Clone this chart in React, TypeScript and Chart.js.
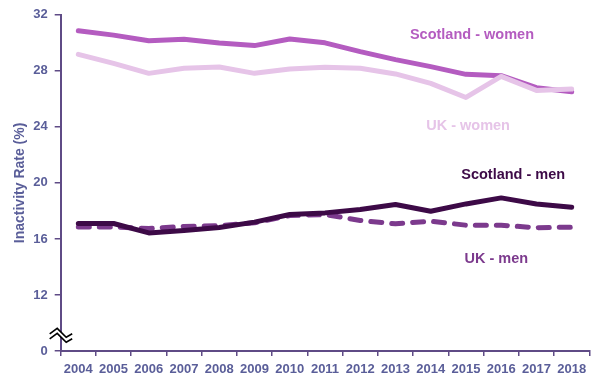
import React, { useEffect, useRef } from "react";
import { Chart, registerables } from "chart.js";

Chart.register(...registerables);

const years = ["2004","2005","2006","2007","2008","2009","2010","2011","2012","2013","2014","2015","2016","2017","2018"];
const scotlandWomen = [30.86, 30.55, 30.15, 30.25, 29.98, 29.8, 30.27, 30.0, 29.37, 28.8, 28.3, 27.75, 27.65, 26.8, 26.5];
const ukWomen = [29.18, 28.53, 27.82, 28.18, 28.27, 27.82, 28.13, 28.25, 28.18, 27.78, 27.1, 26.1, 27.6, 26.6, 26.7];
const scotlandMen = [17.1, 17.1, 16.43, 16.6, 16.82, 17.2, 17.74, 17.86, 18.1, 18.46, 17.98, 18.5, 18.93, 18.5, 18.26];
const ukMen = [16.86, 16.86, 16.74, 16.89, 16.95, 17.15, 17.67, 17.74, 17.32, 17.08, 17.27, 16.98, 16.98, 16.8, 16.84];
const yTicks = [8, 12, 16, 20, 24, 28, 32];
const axisBaseLabel = "0";

const seriesNames = ["Scotland - women", "UK - women", "Scotland - men", "UK - men"];
const colors = ["#b45cc0", "#e6c4e8", "#3d0a47", "#7c3a8d"];

// label anchors in data space: [category index, value]
const labelAnchors: [number, number][] = [
  [11.17, 30.58],
  [11.06, 24.03],
  [12.34, 20.54],
  [11.86, 14.56],
];

const AXIS = "#5f4b86";
const TICK = "#5a5e99";
const FONT = "'Liberation Sans', Arial, sans-serif";

const overlayPlugin = {
  id: "overlay",
  afterDatasetsDraw(chart: any) {
    const { ctx } = chart;
    const xs = chart.scales.x;
    const ys = chart.scales.y;
    ctx.save();
    ctx.font = `bold 14.5px ${FONT}`;
    ctx.textAlign = "center";
    ctx.textBaseline = "middle";
    labelAnchors.forEach(([ix, v], i) => {
      ctx.fillStyle = colors[i];
      ctx.fillText(seriesNames[i], xs.getPixelForValue(ix), ys.getPixelForValue(v));
    });
    // axis break symbol
    const cx = chart.chartArea.left;
    const cy = ys.getPixelForValue(9.12);
    const top = [[-11, -1.5], [-3.5, -7], [5.5, 2], [11.5, -1.5]];
    const off = 5;
    ctx.beginPath();
    top.forEach(([dx, dy], k) => {
      if (k === 0) ctx.moveTo(cx + dx, cy + dy);
      else ctx.lineTo(cx + dx, cy + dy);
    });
    for (let k = top.length - 1; k >= 0; k--) ctx.lineTo(cx + top[k][0], cy + top[k][1] + off);
    ctx.closePath();
    ctx.fillStyle = "#ffffff";
    ctx.fill();
    ctx.strokeStyle = "#000000";
    ctx.lineWidth = 1.6;
    [0, off].forEach((o) => {
      ctx.beginPath();
      top.forEach(([dx, dy], k) => {
        if (k === 0) ctx.moveTo(cx + dx, cy + dy + o);
        else ctx.lineTo(cx + dx, cy + dy + o);
      });
      ctx.stroke();
    });
    ctx.restore();
  },
};

export default function App() {
  const ref = useRef<HTMLCanvasElement | null>(null);
  useEffect(() => {
    if (!ref.current) return;
    const mk = (data: number[], i: number, extra: any = {}) => ({
      label: seriesNames[i],
      data,
      borderColor: colors[i],
      backgroundColor: colors[i],
      borderWidth: 5,
      pointRadius: 0,
      tension: 0,
      fill: false,
      borderJoinStyle: "round",
      borderCapStyle: "round",
      ...extra,
    });
    const chart = new Chart(ref.current, {
      type: "line",
      data: {
        labels: years,
        datasets: [
          mk(ukWomen, 1),
          mk(scotlandMen, 2),
          mk(scotlandWomen, 0),
          mk(ukMen, 3, { borderDash: [11, 10] }),
        ] as any,
      },
      plugins: [overlayPlugin],
      options: {
        responsive: false,
        animation: false,
        layout: { padding: { top: 13, right: 16.7, bottom: 0, left: 0 } },
        plugins: { legend: { display: false }, tooltip: { enabled: false } },
        scales: {
          x: {
            type: "category",
            offset: true,
            grid: {
              offset: true,
              drawOnChartArea: false,
              drawTicks: true,
              tickLength: 5,
              color: AXIS,
              lineWidth: 1.5,
            },
            border: { display: true, color: AXIS, width: 2 },
            ticks: {
              color: TICK,
              font: { family: FONT, size: 13, weight: "bold" },
              padding: 6,
              maxRotation: 0,
              autoSkip: false,
            },
            afterFit(scale: any) {
              scale.height = 39;
            },
          },
          y: {
            type: "linear",
            min: 8,
            max: 32,
            afterBuildTicks(scale: any) {
              scale.ticks = yTicks.map((v) => ({ value: v }));
            },
            afterFit(scale: any) {
              scale.width = 60.7;
            },
            grid: {
              drawOnChartArea: false,
              drawTicks: true,
              tickLength: 6,
              color: AXIS,
              lineWidth: 1.5,
            },
            border: { display: true, color: AXIS, width: 2 },
            ticks: {
              color: TICK,
              font: { family: FONT, size: 13, weight: "bold" },
              padding: 7,
              callback: (v: any) => (v === yTicks[0] ? axisBaseLabel : String(v)),
            },
            title: {
              display: true,
              text: "Inactivity Rate (%)",
              color: TICK,
              font: { family: FONT, size: 14, weight: "bold" },
              padding: { top: 11.5, bottom: 0 },
            },
          },
        },
      } as any,
    });
    return () => chart.destroy();
  }, []);
  return (
    <div style={{ position: "fixed", left: 0, top: 0, width: 606, height: 390, background: "#fff" }}>
      <canvas ref={ref} width={606} height={390} style={{ display: "block" }} />
    </div>
  );
}
